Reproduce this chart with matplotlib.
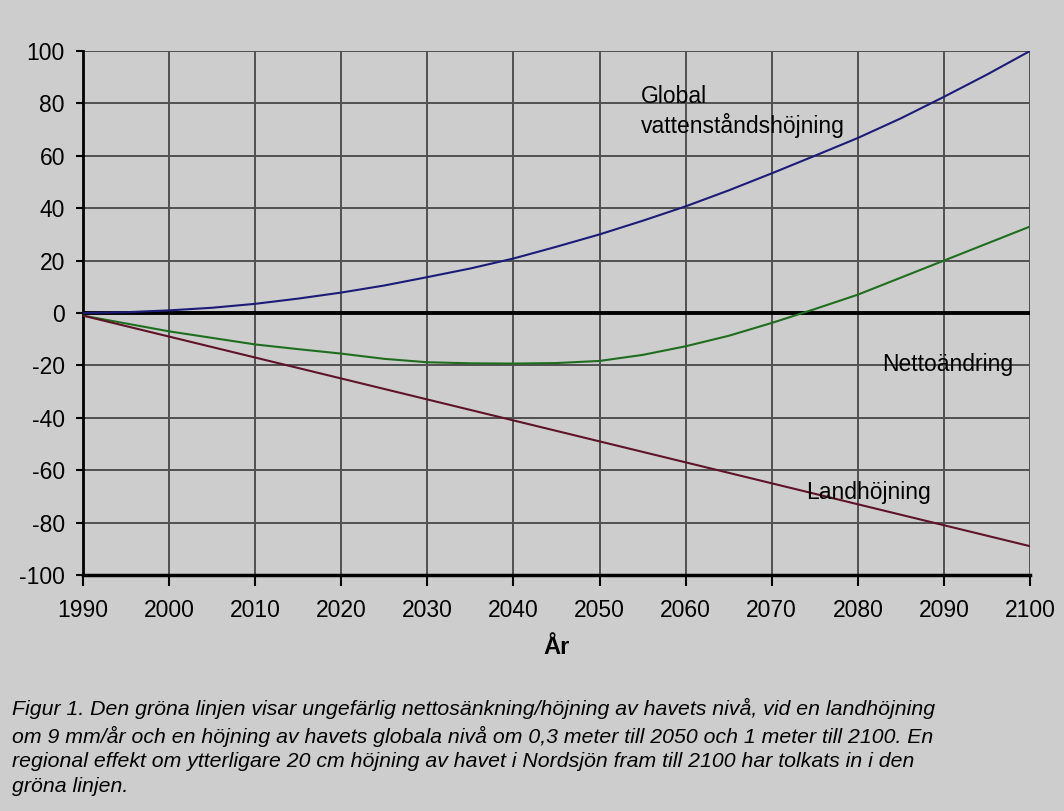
import matplotlib
matplotlib.use("Agg")
import matplotlib.pyplot as plt

years = [1990, 1995, 2000, 2005, 2010, 2015, 2020, 2025, 2030, 2035, 2040, 2045,
         2050, 2055, 2060, 2065, 2070, 2075, 2080, 2085, 2090, 2095, 2100]
global_rise = [0, 0.3, 1, 2, 3.5, 5.5, 7.8, 10.5, 13.7, 17, 20.8, 25.3,
               30, 35.2, 40.7, 46.8, 53.3, 60, 66.8, 74.3, 82.5, 91, 100]
net_change = [-1, -4, -7, -9.5, -12, -13.8, -15.5, -17.5, -18.8, -19.2, -19.3, -19.1,
              -18.3, -16, -12.7, -8.7, -3.8, 1.5, 7, 13.5, 20, 26.5, 33]
land_uplift = [-1, -5, -9, -13, -17, -21, -25, -29, -33, -37, -41, -45,
               -49, -53, -57, -61, -65, -69, -73, -77, -81, -85, -89]

x_ticks = list(range(1990, 2101, 10))
y_ticks = list(range(-100, 101, 20))

caption = ("Figur 1. Den gröna linjen visar ungefärlig nettosänkning/höjning av havets nivå, vid en landhöjning\n"
           "om 9 mm/år och en höjning av havets globala nivå om 0,3 meter till 2050 och 1 meter till 2100. En\n"
           "regional effekt om ytterligare 20 cm höjning av havet i Nordsjön fram till 2100 har tolkats in i den\n"
           "gröna linjen.")

plt.rcParams['font.family'] = ['Liberation Sans', 'DejaVu Sans']
plt.rcParams['axes.unicode_minus'] = False
bg = '#cdcdcd'
fig = plt.figure(figsize=(10.64, 8.11), dpi=100, facecolor=bg)
ax = fig.add_axes([83/1064, 1 - 575/811, (1030-83)/1064, (575-51)/811])
ax.set_facecolor(bg)

ax.set_xlim(1990, 2100)
ax.set_ylim(-100, 100)
ax.set_xticks(x_ticks)
ax.set_yticks(y_ticks)
ax.grid(True, color='#505050', linewidth=1.4)
ax.set_axisbelow(True)
for s in ['top', 'right']:
    ax.spines[s].set_visible(False)
ax.spines['left'].set_color('black')
ax.spines['left'].set_linewidth(2)
ax.spines['bottom'].set_color('black')
ax.spines['bottom'].set_linewidth(2.5)
ax.tick_params(axis='y', direction='out', length=5, width=1.5, labelsize=16.5, pad=8)
ax.tick_params(axis='x', direction='out', length=8, width=1.5, labelsize=16.5, pad=9)

ax.axhline(0, color='black', linewidth=2.8, zorder=2)
ax.plot(years, global_rise, color='#1c1c78', linewidth=1.5, zorder=3)
ax.plot(years, net_change, color='#1f6e1f', linewidth=1.5, zorder=3)
ax.plot(years, land_uplift, color='#5e1426', linewidth=1.5, zorder=3)

ax.text(2054.8, 66.8, "Global\nvattenståndshöjning", fontsize=16.5, va='bottom', ha='left', linespacing=1.25)
ax.text(2082.8, -19.8, "Nettoändring", fontsize=16.5, va='center', ha='left')
ax.text(2074.0, -68.7, "Landhöjning", fontsize=16.5, va='center', ha='left')

ax.set_xlabel("År", fontsize=17, fontweight='bold', labelpad=10)

fig.text(12/1064, 1 - 698/811, caption, fontsize=15.3, style='italic', va='top', ha='left', linespacing=1.38)

fig.savefig("out.png", dpi=100, facecolor=bg)
